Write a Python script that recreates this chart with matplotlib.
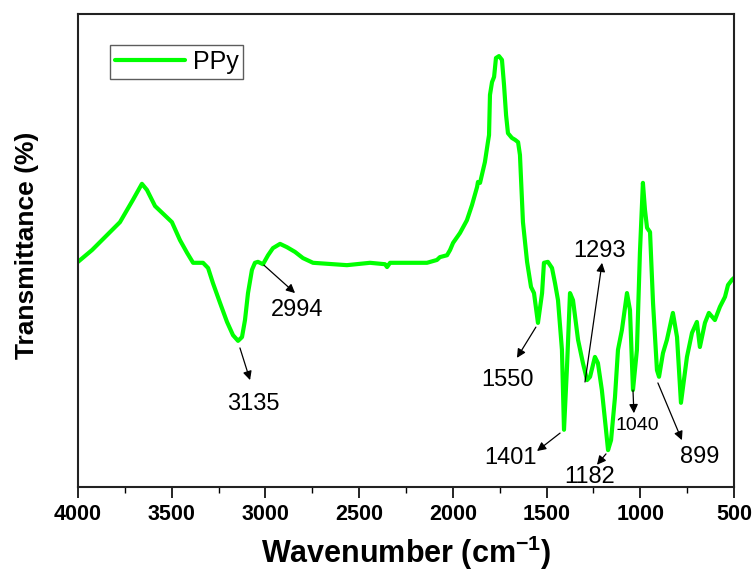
import matplotlib
matplotlib.use("Agg")
import matplotlib.pyplot as plt
from matplotlib.ticker import MultipleLocator

# ---- data ----
wavenumber = [4000, 3925, 3829, 3776, 3707, 3659, 3632, 3589, 3499, 3456, 3418, 3386, 3333,
              3306, 3280, 3242, 3205, 3173, 3146, 3125, 3109, 3093, 3072, 3056, 3040, 3013,
              2986, 2960, 2922, 2885, 2842, 2800, 2746,
              2565, 2442, 2362, 2351, 2335, 2138, 2085, 2069, 2031, 2015, 1999, 1962, 1925,
              1898, 1871, 1866, 1855, 1829, 1813, 1807, 1802, 1791, 1780, 1770, 1754, 1738,
              1727, 1716, 1706, 1685, 1668, 1652, 1642, 1626, 1604,
              1583, 1567, 1546, 1524, 1514, 1493, 1471, 1455, 1439,
              1418, 1407, 1391, 1375, 1359, 1332, 1306, 1284, 1268, 1242, 1226, 1205, 1183,
              1172, 1156, 1135, 1119, 1098, 1071, 1055, 1039, 1018, 1002, 986, 975, 964, 948,
              932, 911, 900, 879, 858, 826, 804, 783, 751, 724, 698, 682, 655, 634, 602, 575,
              548, 532, 511, 500]
transmittance = [47.6, 50.1, 53.9, 56.0, 60.7, 64.1, 62.8, 59.4, 56.0, 52.2, 49.5, 47.4, 47.4,
                 46.3, 43.1, 38.9, 34.9, 32.1, 30.9, 31.7, 35.3, 41.0, 45.9, 47.4, 47.6, 47.1,
                 49.0, 50.5, 51.4, 50.7, 49.7, 48.4, 47.4,
                 46.9, 47.4, 47.1, 46.5, 47.4, 47.4, 48.0, 48.6, 49.0, 50.1, 51.6, 53.7, 56.4,
                 59.6, 63.4, 64.5, 64.3, 68.7, 72.9, 74.4, 82.9, 85.6, 86.7, 90.7, 91.1, 90.3,
                 85.0, 78.6, 74.8, 73.8, 73.4, 72.9, 70.2, 56.0, 47.6,
                 42.3, 41.0, 34.7, 41.0, 47.4, 47.6, 46.3, 43.1, 39.5,
                 29.0, 12.1, 25.4, 41.0, 39.5, 31.1, 26.2, 22.6, 23.3, 27.5, 26.2, 20.5, 12.1,
                 7.8, 9.9, 19.0, 29.0, 33.2, 41.0, 37.4, 20.5, 29.0, 49.5, 64.3, 58.6, 54.8, 53.9,
                 38.9, 24.7, 23.3, 28.3, 31.1, 36.8, 31.7, 17.8, 27.5, 32.6, 34.9, 29.6, 34.7,
                 36.8, 35.3, 38.1, 40.2, 42.7, 43.8, 44.2]

peak_labels = ["3135", "2994", "1550", "1293", "1401", "1182", "1040", "899"]

# annotation layout: (arrow tail on curve), (arrow head), (text position), font size
tails = [(3136, 29.4), (3008, 46.9), (1557, 33.8), (1295, 22.2),
         (1428, 11.4), (1183, 7.0), (1039, 20.5), (906, 22.0)]
heads = [(3082, 22.6), (2842, 41.0), (1658, 27.3), (1204, 47.4),
         (1551, 7.6), (1231, 4.7), (1034, 15.6), (778, 9.9)]
texts = [(3066, 17.5), (2832, 37.4), (1711, 22.6), (1220, 49.9),
         (1695, 6.1), (1268, 2.1), (1018, 13.1), (682, 6.3)]
sizes = [17, 17, 17, 17, 17, 17, 14, 17]

plt.rcParams['font.family'] = ['Liberation Sans', 'DejaVu Sans']
plt.rcParams['mathtext.fontset'] = 'custom'
plt.rcParams['mathtext.rm'] = 'Liberation Sans'
plt.rcParams['mathtext.bf'] = 'Liberation Sans:bold'

fig = plt.figure(figsize=(7.52, 5.76), dpi=100)
ax = fig.add_axes([78 / 752, 1 - 487 / 576, (734 - 78) / 752, (487 - 14) / 576])

ax.plot(wavenumber, transmittance, color='#00ff00', lw=3.0, label='PPy',
        solid_joinstyle='round', solid_capstyle='round')

ax.set_xlim(4000, 500)
ax.set_ylim(0, 100)
ax.xaxis.set_major_locator(MultipleLocator(500))
ax.xaxis.set_minor_locator(MultipleLocator(250))
ax.tick_params(axis='x', which='major', direction='out', length=8, width=1.2,
               labelsize=15.5, pad=4)
ax.tick_params(axis='x', which='minor', direction='out', length=4, width=1.0)
ax.tick_params(axis='y', which='both', left=False, labelleft=False)
for lbl in ax.get_xticklabels():
    lbl.set_fontweight('bold')
for sp in ax.spines.values():
    sp.set_linewidth(1.5)
    sp.set_color('#222222')

fig.text(406 / 752, 1 - 553 / 576, 'Wavenumber (cm$^{\\mathbf{-1}}$)', fontsize=22,
         fontweight='bold', ha='center', va='center')
fig.text(27 / 752, 1 - 245 / 576, 'Transmittance (%)', fontsize=19, fontweight='bold',
         rotation=90, ha='center', va='center')

for lab, t, h, tx, fs in zip(peak_labels, tails, heads, texts, sizes):
    ax.annotate('', xy=h, xytext=t,
                arrowprops=dict(arrowstyle='-|>', color='black', lw=0.9,
                                mutation_scale=13, shrinkA=0, shrinkB=0))
    ax.text(tx[0], tx[1], lab, fontsize=fs, ha='center', va='center', color='black')

leg = ax.legend(loc='upper left', bbox_to_anchor=(0.049, 0.934), fontsize=18,
                frameon=True, fancybox=False, edgecolor='#333333',
                handlelength=2.8, handletextpad=0.3, borderpad=0.2,
                borderaxespad=0)
leg.get_frame().set_linewidth(1.0)

fig.savefig('out.png', dpi=100)
